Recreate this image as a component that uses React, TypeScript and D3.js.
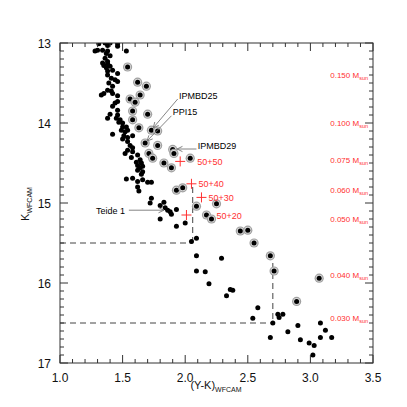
import React from 'react';
import * as d3 from 'd3';

const xDomain: [number, number] = [1.0, 3.5];
const yDomain: [number, number] = [13, 17];
const xTickValues = [1.0, 1.5, 2.0, 2.5, 3.0, 3.5];
const xTickLabels = ['1.0', '1.5', '2.0', '2.5', '3.0', '3.5'];
const yTickValues = [13, 14, 15, 16, 17];
const yTickLabels = ['13', '14', '15', '16', '17'];

// [ (Y-K), K ]
const fieldStars: [number, number][] = [
  [1.31, 13.01], [1.36, 13.0], [1.38, 13.03], [1.40, 13.0], [1.46, 13.01], [1.46, 13.04],
  [1.53, 13.10], [1.28, 13.10], [1.30, 13.09], [1.34, 13.09], [1.37, 13.13], [1.38, 13.10],
  [1.40, 13.16], [1.36, 13.19], [1.38, 13.23], [1.34, 13.25], [1.35, 13.28], [1.38, 13.26],
  [1.37, 13.31], [1.40, 13.29], [1.38, 13.35], [1.42, 13.34], [1.46, 13.38], [1.38, 13.40],
  [1.41, 13.44], [1.44, 13.46], [1.46, 13.48], [1.39, 13.50], [1.42, 13.54], [1.38, 13.59],
  [1.41, 13.60], [1.42, 13.63], [1.33, 13.65], [1.35, 13.63], [1.46, 13.66], [1.46, 13.73],
  [1.44, 13.75], [1.42, 13.79], [1.46, 13.84], [1.40, 13.89], [1.46, 13.90], [1.45, 13.94],
  [1.38, 13.94], [1.48, 13.96], [1.47, 13.99], [1.50, 14.00], [1.50, 14.05], [1.53, 14.05],
  [1.49, 14.09], [1.52, 14.11], [1.54, 14.09], [1.42, 14.14], [1.51, 14.16], [1.54, 14.18],
  [1.58, 14.16], [1.50, 14.20], [1.54, 14.23], [1.56, 14.28], [1.58, 14.31], [1.54, 14.34],
  [1.58, 14.36], [1.52, 14.38], [1.62, 14.40], [1.57, 14.43], [1.64, 14.46], [1.61, 14.49],
  [1.65, 14.50], [1.62, 14.53], [1.66, 14.54], [1.64, 14.56], [1.62, 14.59], [1.66, 14.61],
  [1.65, 14.64], [1.53, 14.70], [1.58, 14.69], [1.62, 14.73], [1.66, 14.71], [1.70, 14.74],
  [1.73, 14.74], [1.62, 14.80], [1.63, 14.85], [1.73, 14.94], [1.72, 15.00], [1.80, 15.03],
  [1.83, 14.99], [1.84, 15.06], [1.86, 15.09], [1.88, 15.11], [1.89, 15.14], [1.93, 15.08],
  [1.80, 15.20], [1.93, 15.29], [2.00, 15.25], [2.05, 15.48], [2.09, 15.44], [2.09, 15.66],
  [2.29, 15.69], [2.09, 15.85], [2.16, 15.86], [2.19, 16.01], [2.36, 16.08], [2.38, 16.09],
  [2.33, 16.16], [2.58, 16.31], [2.54, 16.44], [2.74, 16.39], [2.75, 16.43], [2.78, 16.39],
  [2.70, 16.50], [2.68, 16.68], [2.82, 16.61], [2.90, 16.53], [2.92, 16.71], [2.99, 16.75],
  [3.03, 16.78], [3.08, 16.50], [3.12, 16.59], [3.08, 16.68], [3.17, 16.68], [3.02, 16.90],
];

const ringedStars: [number, number][] = [
  [1.54, 13.30], [1.62, 13.49], [1.69, 13.54], [1.64, 13.65], [1.56, 13.70], [1.60, 13.74],
  [1.58, 13.85], [1.70, 13.89], [1.58, 13.96], [1.63, 14.06], [1.73, 14.09], [1.78, 14.10],
  [1.68, 14.25], [1.78, 14.28], [1.90, 14.33], [1.91, 14.38], [1.71, 14.38], [1.74, 14.44],
  [1.83, 14.50], [1.89, 14.56], [2.04, 14.44], [1.93, 14.84], [1.98, 14.81], [2.09, 15.04],
  [2.25, 15.01], [2.17, 15.15], [2.21, 15.20], [2.44, 15.35], [2.50, 15.34], [2.55, 15.50],
  [2.68, 15.66], [2.71, 15.85], [3.07, 15.94], [2.89, 16.23],
];

const massLabels = ['0.150', '0.100', '0.075', '0.060', '0.050', '0.040', '0.030'];
const massK = [13.40, 14.00, 14.46, 14.84, 15.20, 15.90, 16.44];

const modelLabels = ['50+50', '50+40', '50+30', '50+20'];
const modelPoints: [number, number][] = [[1.96, 14.48], [2.05, 14.76], [2.13, 14.93], [2.01, 15.15]];
const modelLabelOffset = [17, 7, 7, 30];

const limitColor = [2.06, 2.70];
const limitK = [15.5, 16.5];
const limitTopK = [14.8, 15.75];

const annotations = [
  { name: 'IPMBD25', text: [1.95, 13.65], from: [1.94, 13.70], to: [1.745, 14.06], anchor: 'start' },
  { name: 'PPI15', text: [1.90, 13.86], from: [1.89, 13.91], to: [1.695, 14.225], anchor: 'start' },
  { name: 'IPMBD29', text: [2.10, 14.275], from: [2.09, 14.325], to: [1.935, 14.325], anchor: 'start' },
  { name: 'Teide 1', text: [1.52, 15.09], from: [1.55, 15.09], to: [1.83, 15.09], anchor: 'end' },
];

const FONT = '"Liberation Sans", Arial, Helvetica, sans-serif';
const RED = '#ff3030';
const AX = '#333';

export default function App() {
  const L = 60, R = 373, T = 43, B = 363;
  const x = d3.scaleLinear().domain(xDomain).range([L, R]);
  const y = d3.scaleLinear().domain(yDomain).range([T, B]);

  const xMinor = d3.range(10, 36).map((v) => v / 10);
  const yMinor = d3.range(130, 171).map((v) => v / 10);

  const arrowHead = (fx: number, fy: number, tx: number, ty: number) => {
    const a = Math.atan2(ty - fy, tx - fx);
    const len = 6, w = 0.45;
    const p1 = [tx - len * Math.cos(a - w), ty - len * Math.sin(a - w)];
    const p2 = [tx - len * Math.cos(a + w), ty - len * Math.sin(a + w)];
    return `M${p1[0]},${p1[1]}L${tx},${ty}L${p2[0]},${p2[1]}`;
  };

  return (
    <svg width={407} height={407} style={{ position: 'absolute', left: 0, top: 0, background: '#fff' }} fontFamily={FONT}>
      <defs>
        <clipPath id="plotclip">
          <rect x={L} y={T} width={R - L} height={B - T} />
        </clipPath>
      </defs>
      <rect x={0} y={0} width={407} height={407} fill="#fff" />

      {/* dashed limits */}
      {limitColor.map((c, i) => (
        <g key={'lim' + i} stroke="#444" strokeWidth={1} strokeDasharray="6,4" fill="none">
          <line x1={x(1.0)} x2={x(c)} y1={y(limitK[i])} y2={y(limitK[i])} />
          <line x1={x(c)} x2={x(c)} y1={y(limitTopK[i])} y2={y(limitK[i])} />
        </g>
      ))}

      <g clipPath="url(#plotclip)">
        {ringedStars.map(([c, k], i) => (
          <g key={'r' + i}>
            <circle cx={x(c)} cy={y(k)} r={4.6} fill="#a0a0a0" />
            <circle cx={x(c)} cy={y(k)} r={3.4} fill="#d8d8d8" />
            <circle cx={x(c)} cy={y(k)} r={2.5} fill="#000" />
          </g>
        ))}
        {fieldStars.map(([c, k], i) => (
          <circle key={'f' + i} cx={x(c)} cy={y(k)} r={2.5} fill="#000" />
        ))}
      </g>

      {/* model crosses */}
      {modelPoints.map(([c, k], i) => (
        <g key={'m' + i}>
          <path d={`M${x(c) - 5},${y(k)}H${x(c) + 5}M${x(c)},${y(k) - 5}V${y(k) + 5}`} stroke={RED} strokeWidth={1} />
          <text x={x(c) + modelLabelOffset[i]} y={y(k) + 3.5} fontSize={9} fill={RED}>{modelLabels[i]}</text>
        </g>
      ))}

      {/* annotations */}
      {annotations.map((a, i) => {
        const fx = x(a.from[0]), fy = y(a.from[1]), tx = x(a.to[0]), ty = y(a.to[1]);
        return (
          <g key={'a' + i}>
            <line x1={fx} y1={fy} x2={tx} y2={ty} stroke="#777" strokeWidth={0.9} />
            <path d={arrowHead(fx, fy, tx, ty)} stroke="#777" strokeWidth={0.9} fill="none" />
            <text x={x(a.text[0])} y={y(a.text[1]) + 3.5} fontSize={9} fill="#000" textAnchor={a.anchor as any}>{a.name}</text>
          </g>
        );
      })}

      {/* mass labels */}
      {massLabels.map((m, i) => (
        <text key={'ml' + i} x={368} y={y(massK[i]) + 3} fontSize={8} fill={RED} textAnchor="end">
          {m} M<tspan fontSize={5.5} dy={2}>sun</tspan>
        </text>
      ))}

      {/* axes frame */}
      <rect x={L} y={T} width={R - L} height={B - T} fill="none" stroke={AX} strokeWidth={1} />

      {/* ticks */}
      {xMinor.map((v, i) => {
        const major = xTickValues.some((t) => Math.abs(t - v) < 1e-6);
        const len = major ? 8 : 4;
        return (
          <g key={'xt' + i} stroke={AX} strokeWidth={1}>
            <line x1={x(v)} x2={x(v)} y1={B} y2={B - len} />
            <line x1={x(v)} x2={x(v)} y1={T} y2={T + len} />
          </g>
        );
      })}
      {yMinor.map((v, i) => {
        const major = yTickValues.some((t) => Math.abs(t - v) < 1e-6);
        const len = major ? 8 : 4;
        return (
          <g key={'yt' + i} stroke={AX} strokeWidth={1}>
            <line x1={L} x2={L + len} y1={y(v)} y2={y(v)} />
            <line x1={R} x2={R - len} y1={y(v)} y2={y(v)} />
          </g>
        );
      })}
      {xTickValues.map((v, i) => (
        <text key={'xl' + i} x={x(v)} y={382} fontSize={12} textAnchor="middle" fill="#111">{xTickLabels[i]}</text>
      ))}
      {yTickValues.map((v, i) => (
        <text key={'yl' + i} x={51} y={y(v) + 4.5} fontSize={12} textAnchor="end" fill="#111">{yTickLabels[i]}</text>
      ))}

      {/* axis titles */}
      <text x={216} y={389} fontSize={11} textAnchor="middle" fill="#111">
        (Y-K)<tspan fontSize={7} dy={3}>WFCAM</tspan>
      </text>
      <text transform="translate(29,204) rotate(-90)" fontSize={11} textAnchor="middle" fill="#111">
        K<tspan fontSize={7} dy={3}>WFCAM</tspan>
      </text>
    </svg>
  );
}
